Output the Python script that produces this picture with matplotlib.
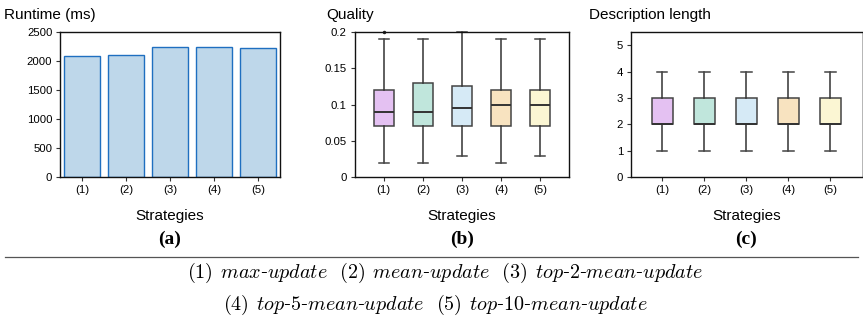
import matplotlib
matplotlib.use("Agg")
import matplotlib.pyplot as plt
from matplotlib.lines import Line2D

plt.rcParams['font.family'] = ['Liberation Sans', 'DejaVu Sans']
plt.rcParams['mathtext.fontset'] = 'cm'

# ---- data ----
strategies = ["(1)", "(2)", "(3)", "(4)", "(5)"]
runtime_ms = [2080, 2110, 2250, 2250, 2230]

quality_med = [0.09, 0.09, 0.095, 0.10, 0.10]
quality_q1 = [0.07, 0.07, 0.07, 0.07, 0.07]
quality_q3 = [0.12, 0.13, 0.125, 0.12, 0.12]
quality_lo = [0.02, 0.02, 0.03, 0.02, 0.03]
quality_hi = [0.19, 0.19, 0.20, 0.19, 0.19]
quality_fliers = [[0.2], [], [], [], []]

desc_med = [2, 2, 2, 2, 2]
desc_q1 = [2, 2, 2, 2, 2]
desc_q3 = [3, 3, 3, 3, 3]
desc_lo = [1, 1, 1, 1, 1]
desc_hi = [4, 4, 4, 4, 4]

box_colors = ["#e4c1f2", "#c0e6dc", "#d6eaf6", "#f8e3c0", "#fbf6d3"]

W, H = 863, 320
fig = plt.figure(figsize=(W / 100, H / 100), dpi=100)


def ax_rect(x0, x1, ytop, ybot):
    return [x0 / W, 1 - ybot / H, (x1 - x0) / W, (ybot - ytop) / H]


TICK_FS = 8.2
LABEL_FS = 11


def style_axes(ax):
    for s in ax.spines.values():
        s.set_linewidth(1.0)
        s.set_color("#111111")
    ax.tick_params(axis="both", labelsize=TICK_FS, length=3, width=0.8,
                   color="#333333", pad=2.5)
    ax.set_xlabel("Strategies", fontsize=LABEL_FS, labelpad=10)


# ---- (a) runtime bars ----
axa = fig.add_axes(ax_rect(60, 280, 32, 177.3))
xs = list(range(len(strategies)))
axa.bar(xs, runtime_ms, width=0.81, color="#bed7ea", edgecolor="#1f6fc0",
        linewidth=1.0)
axa.set_xlim(-0.5, 4.5)
axa.set_ylim(0, 2500)
axa.set_yticks([0, 500, 1000, 1500, 2000, 2500])
axa.set_xticks(xs)
axa.set_xticklabels(strategies)
style_axes(axa)


def draw_boxes(ax, med, q1, q3, lo, hi, fliers):
    stats = []
    for i in range(len(med)):
        stats.append(dict(med=med[i], q1=q1[i], q3=q3[i], whislo=lo[i],
                          whishi=hi[i], fliers=fliers[i]))
    pos = list(range(1, len(med) + 1))
    bp = ax.bxp(stats, positions=pos, widths=0.5, patch_artist=True,
                showfliers=True,
                boxprops=dict(edgecolor="#444444", linewidth=1.1),
                whiskerprops=dict(color="#333333", linewidth=1.1),
                capprops=dict(color="#444444", linewidth=1.1),
                medianprops=dict(color="#333333", linewidth=1.4),
                flierprops=dict(marker="o", markersize=1.5,
                                markerfacecolor="#222222",
                                markeredgecolor="#222222"))
    for patch, c in zip(bp["boxes"], box_colors):
        patch.set_facecolor(c)
    ax.set_xticks(pos)
    ax.set_xticklabels(strategies)
    ax.set_xlim(0.25, 5.75)


# ---- (b) quality ----
axb = fig.add_axes(ax_rect(354.5, 569.3, 32, 177.3))
draw_boxes(axb, quality_med, quality_q1, quality_q3, quality_lo, quality_hi,
           quality_fliers)
axb.set_ylim(0, 0.2)
axb.set_yticks([0, 0.05, 0.1, 0.15, 0.2])
axb.set_yticklabels(["0", "0.05", "0.1", "0.15", "0.2"])
style_axes(axb)
for ch in axb.get_children():
    if isinstance(ch, Line2D):
        ch.set_clip_on(False)

# ---- (c) description length ----
axc = fig.add_axes(ax_rect(630.7, 862, 32, 177.3))
draw_boxes(axc, desc_med, desc_q1, desc_q3, desc_lo, desc_hi,
           [[], [], [], [], []])
axc.set_ylim(0, 5.5)
axc.set_yticks([0, 1, 2, 3, 4, 5])
style_axes(axc)
axc.spines["right"].set_color("#aaaaaa")
axc.spines["right"].set_linewidth(0.6)

# ---- titles ----
fig.text(4 / W, 1 - 15 / H, "Runtime (ms)", fontsize=LABEL_FS, va="center",
         ha="left")
fig.text(326 / W, 1 - 15 / H, "Quality", fontsize=LABEL_FS, va="center",
         ha="left")
fig.text(589 / W, 1 - 15 / H, "Description length", fontsize=LABEL_FS,
         va="center", ha="left")

# ---- sub-captions ----
for ax, lab in ((axa, "(a)"), (axb, "(b)"), (axc, "(c)")):
    bb = ax.get_position()
    cx = (bb.x0 + bb.x1) / 2
    fig.text(cx, 1 - 239 / H, lab, fontsize=14, fontweight="bold",
             family="Liberation Serif", ha="center", va="center")

# ---- rule and legend caption ----
fig.add_artist(Line2D([5 / W, 858 / W], [1 - 257 / H, 1 - 257 / H],
                      color="#555555", linewidth=0.9))


def item(num, words):
    parts = [r"$\mathit{%s}$" % w for w in words]
    return r"$\mathrm{(%s)}\;\,$" % num + "-".join(parts)


line1 = "  ".join([item(1, ["max", "update"]),
                   item(2, ["mean", "update"]),
                   item(3, ["top", "2", "mean", "update"])])
line2 = "  ".join([item(4, ["top", "5", "mean", "update"]),
                   item(5, ["top", "10", "mean", "update"])])
fig.text(445 / W, 1 - 273 / H, line1, fontsize=14.5, ha="center",
         va="center", family="DejaVu Serif")
fig.text(435 / W, 1 - 305 / H, line2, fontsize=14.5, ha="center",
         va="center", family="DejaVu Serif")

fig.savefig("out.png", dpi=100)
